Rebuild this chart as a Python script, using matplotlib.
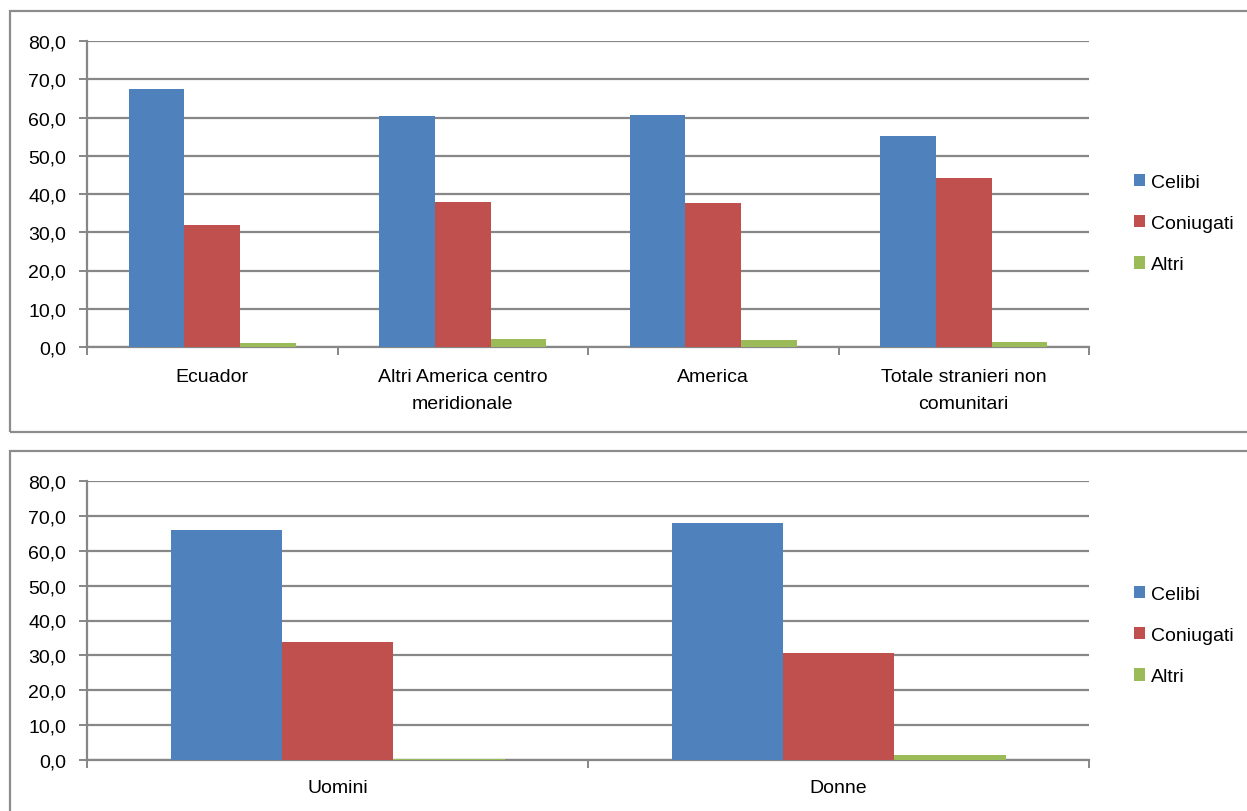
import matplotlib
matplotlib.use("Agg")
import matplotlib.pyplot as plt
import numpy as np
from matplotlib.patches import Rectangle, Patch
from matplotlib.ticker import FuncFormatter

plt.rcParams['font.family'] = ['Liberation Sans', 'DejaVu Sans']

series = ["Celibi", "Coniugati", "Altri"]
colors = ["#4F81BD", "#C0504D", "#9BBB59"]

# Top panel: by area of origin
areas = ["Ecuador", "Altri America centro\nmeridionale", "America",
         "Totale stranieri non\ncomunitari"]
celibi_area = [67.4, 60.3, 60.7, 55.1]
coniugati_area = [31.8, 37.9, 37.7, 44.2]
altri_area = [1.0, 2.1, 1.8, 1.3]

# Bottom panel: by sex
sexes = ["Uomini", "Donne"]
celibi_sex = [66.0, 68.1]
coniugati_sex = [33.7, 30.6]
altri_sex = [0.3, 1.3]

yticks = [0, 10, 20, 30, 40, 50, 60, 70, 80]

W, H = 1247, 812
fig = plt.figure(figsize=(W / 100, H / 100), dpi=100)
fig.patch.set_facecolor("white")

GRID = "#878787"


def frame(x0, y0, x1, y1):
    r = Rectangle((x0 / W, 1 - y1 / H), (x1 - x0) / W, (y1 - y0) / H,
                  transform=fig.transFigure, fill=False, edgecolor="#8c8c8c",
                  linewidth=1.6, clip_on=False)
    fig.add_artist(r)


def panel(rect, cats, values, legend_pos, xpad):
    ax = fig.add_axes(rect)
    n = len(cats)
    x = np.arange(n)
    bw = 2 / 9
    for i, (vals, col, name) in enumerate(zip(values, colors, series)):
        ax.bar(x + (i - 1) * bw, vals, width=bw, color=col, edgecolor="none",
               zorder=3, label=name)
    ax.set_xlim(-0.5, n - 0.5)
    ax.set_ylim(0, 80)
    ax.set_yticks(yticks)
    ax.yaxis.set_major_formatter(FuncFormatter(lambda v, p: f"{v:.1f}".replace(".", ",")))
    ax.grid(axis="y", color=GRID, linewidth=1.6, zorder=0)
    ax.set_xticks(x)
    ax.set_xticklabels(cats, fontsize=14, linespacing=1.75)
    ax.set_xticks(np.arange(-0.5, n), minor=True)
    ax.tick_params(axis="x", which="major", length=0, pad=xpad)
    ax.tick_params(axis="x", which="minor", length=6, width=1.4, color=GRID)
    ax.tick_params(axis="y", length=6, width=1.4, color=GRID, labelsize=14, pad=9)
    for s in ["top", "right"]:
        ax.spines[s].set_visible(False)
    for s in ["left", "bottom"]:
        ax.spines[s].set_color(GRID)
        ax.spines[s].set_linewidth(1.6)
    handles = [Patch(facecolor=c, edgecolor="none") for c in colors]
    fig.legend(handles, series, loc="upper left",
               bbox_to_anchor=(legend_pos[0] / W, 1 - legend_pos[1] / H),
               frameon=False, fontsize=14, handlelength=0.6, handleheight=0.6,
               handletextpad=0.3, labelspacing=1.25, borderaxespad=0)
    return ax


frame(10, 12, 1260, 433)
frame(10, 452, 1260, 830)

panel([87 / W, 1 - 348 / H, (1089 - 87) / W, (348 - 42) / H], areas,
      [celibi_area, coniugati_area, altri_area], (1126, 167), 15)
panel([87 / W, 1 - 761 / H, (1089 - 87) / W, (761 - 482) / H], sexes,
      [celibi_sex, coniugati_sex, altri_sex], (1126, 579), 14)

fig.savefig("out.png", dpi=100, facecolor="white")
